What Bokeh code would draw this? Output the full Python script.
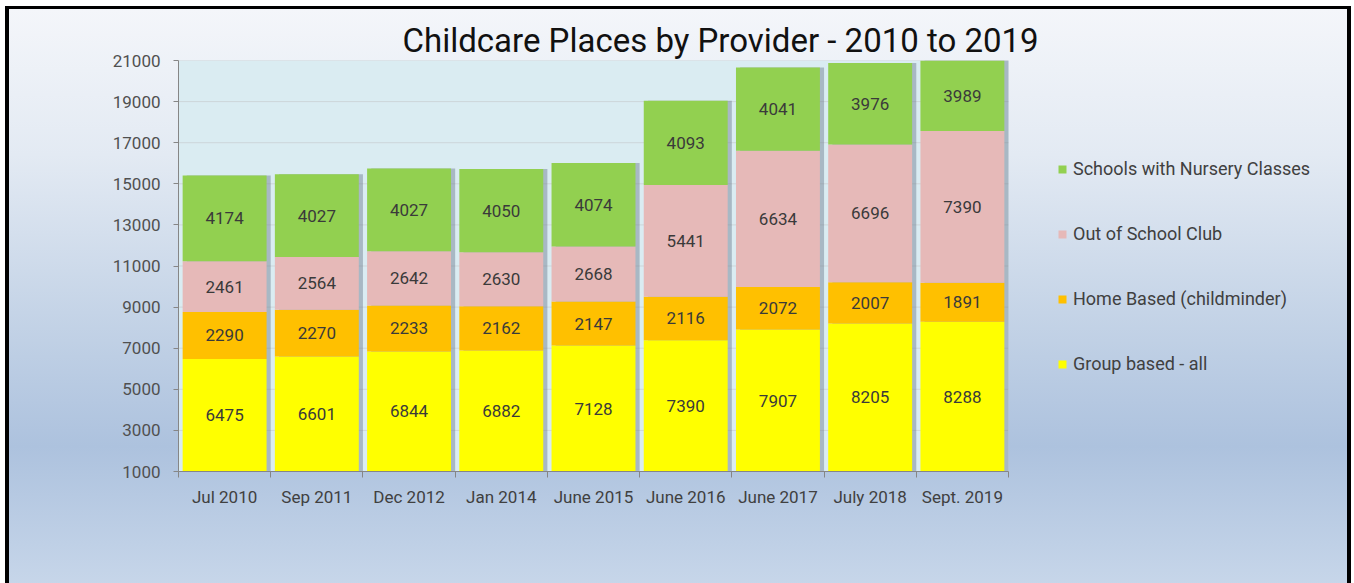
from bokeh.plotting import figure
from bokeh.models import (ColumnDataSource, Range1d, FixedTicker, Legend, LegendItem, Title,
                          BoxAnnotation)
from bokeh.embed import file_html
from bokeh.resources import INLINE
from bokeh.core.properties import value

# ---- data ----
categories = ["Jul 2010", "Sep 2011", "Dec 2012", "Jan 2014", "June 2015",
              "June 2016", "June 2017", "July 2018", "Sept. 2019"]
group_based = [6475, 6601, 6844, 6882, 7128, 7390, 7907, 8205, 8288]
home_based = [2290, 2270, 2233, 2162, 2147, 2116, 2072, 2007, 1891]
out_of_school = [2461, 2564, 2642, 2630, 2668, 5441, 6634, 6696, 7390]
schools_nursery = [4174, 4027, 4027, 4050, 4074, 4093, 4041, 3976, 3989]
series_names = ["Group based - all", "Home Based (childminder)",
                "Out of School Club", "Schools with Nursery Classes"]
y_ticks = [1000, 3000, 5000, 7000, 9000, 11000, 13000, 15000, 17000, 19000, 21000]
title_text = "Childcare Places by Provider - 2010 to 2019"

# ---- styling ----
colors = ["#ffff00", "#ffc000", "#e6b9b8", "#92d050"]
FONT = "Roboto"
Y_MIN, Y_MAX = 1000, 21000
BAR_W = 0.91

n = len(categories)
# the plotting area holds the 9 bars in 830px; the frame continues to the right
# (empty) so the legend can sit inside it
FRAME_LEFT, FRAME_RIGHT, BAR_AREA_PX = 178, 1350, 830
x_end = (FRAME_RIGHT - FRAME_LEFT) * n / BAR_AREA_PX

xs = [i + 0.5 for i in range(n)]
keys = ["group", "home", "osc", "schools"]
series = [group_based, home_based, out_of_school, schools_nursery]
data = {"x": xs, "cat": categories}
for k, s in zip(keys, series):
    data[k] = s
totals = [sum(v) for v in zip(*series)]
data["total"] = totals
data["shadow_x"] = [x + 0.045 for x in xs]
src = ColumnDataSource(data)

# label positions: centre of the visible part of each segment
lx, ly, lt = [], [], []
for i in range(n):
    base = 0
    for s in series:
        top = base + s[i]
        lo, hi = max(base, Y_MIN), min(top, Y_MAX)
        lx.append(xs[i])
        ly.append((lo + hi) / 2)
        lt.append(str(s[i]))
        base = top
lsrc = ColumnDataSource(dict(x=lx, y=ly, t=lt))

p = figure(width=1354, height=583, x_range=Range1d(0, x_end), y_range=Range1d(Y_MIN, Y_MAX),
           output_backend="svg", toolbar_location=None, title=None,
           min_border_left=FRAME_LEFT, min_border_right=1354 - FRAME_RIGHT,
           min_border_top=60, min_border_bottom=112)
p.border_fill_color = None
p.background_fill_color = None
p.outline_line_color = None
p.styles = {
    "background": (
        "linear-gradient(#000,#000) 5px 6px / 4px 100% no-repeat, "
        "linear-gradient(#000,#000) 5px 6px / 1346px 3px no-repeat, "
        "linear-gradient(#000,#000) 1347px 6px / 4px 100% no-repeat, "
        "linear-gradient(to bottom, #f4f6fa 0%, #e3eaf3 25%, #c5d4e7 52%, #adc2de 75%, #c8d7ea 100%) "
        "9px 9px / 1338px 100% no-repeat, #ffffff"
    ),
}

# light-blue plot area behind the bars only
p.add_layout(BoxAnnotation(left=0, right=n, bottom=Y_MIN, top=Y_MAX, level="image",
                           fill_color="#daecf2", fill_alpha=1.0, line_color=None))

# horizontal grid lines limited to the bar area
gsrc = ColumnDataSource(dict(x0=[0] * len(y_ticks), x1=[n] * len(y_ticks), y=y_ticks))
p.segment(x0="x0", x1="x1", y0="y", y1="y", source=gsrc, line_color="#cdd6da",
          line_width=1, level="underlay")

# shadows
p.vbar(x="shadow_x", top="total", bottom=0, width=BAR_W, source=src,
       fill_color="#6b7b8c", fill_alpha=0.45, line_color=None)

renderers = p.vbar_stack(keys, x="x", width=BAR_W, source=src,
                         fill_color=colors, line_color=None)

p.text(x="x", y="y", text="t", source=lsrc, text_align="center", text_baseline="middle",
       text_font=value(FONT), text_font_size="17px", text_color="#3a3a3a")

# axes
xa = p.xaxis[0]
xa.bounds = (0, n)
xa.ticker = FixedTicker(ticks=xs, minor_ticks=list(range(n + 1)))
xa.major_label_overrides = {x: c for x, c in zip(xs, categories)}
xa.major_tick_line_color = None
xa.major_tick_out = 0
xa.major_tick_in = 0
xa.minor_tick_line_color = "#868686"
xa.minor_tick_out = 6
xa.minor_tick_in = 0
xa.axis_line_color = "#868686"
xa.major_label_standoff = 9
xa.major_label_text_font = FONT
xa.major_label_text_font_size = "17px"
xa.major_label_text_color = "#404040"

ya = p.yaxis[0]
ya.ticker = FixedTicker(ticks=y_ticks)
ya.minor_tick_line_color = None
ya.major_tick_line_color = "#868686"
ya.major_tick_out = 5
ya.major_tick_in = 0
ya.axis_line_color = "#868686"
ya.major_label_standoff = 13
ya.major_label_text_font = FONT
ya.major_label_text_font_size = "17px"
ya.major_label_text_color = "#505050"

p.xgrid.grid_line_color = None
p.ygrid.grid_line_color = None

# title
p.add_layout(Title(text=title_text, align="left", offset=224, standoff=2,
                   text_font=FONT, text_font_size="33px", text_font_style="normal",
                   text_color="#111111"), "above")

# legend (inside the empty right part of the frame)
items = [LegendItem(label=nm, renderers=[r]) for nm, r in zip(series_names, renderers)]
legend = Legend(items=list(reversed(items)), location=(879, 97), orientation="vertical",
                padding=0, margin=0, spacing=44, glyph_width=10, glyph_height=10,
                label_height=21, label_standoff=6,
                label_text_font=FONT, label_text_font_size="18px", label_text_color="#404040",
                border_line_color=None, background_fill_alpha=0)
p.add_layout(legend, "center")

open("out.html", "w").write(file_html(p, INLINE))
